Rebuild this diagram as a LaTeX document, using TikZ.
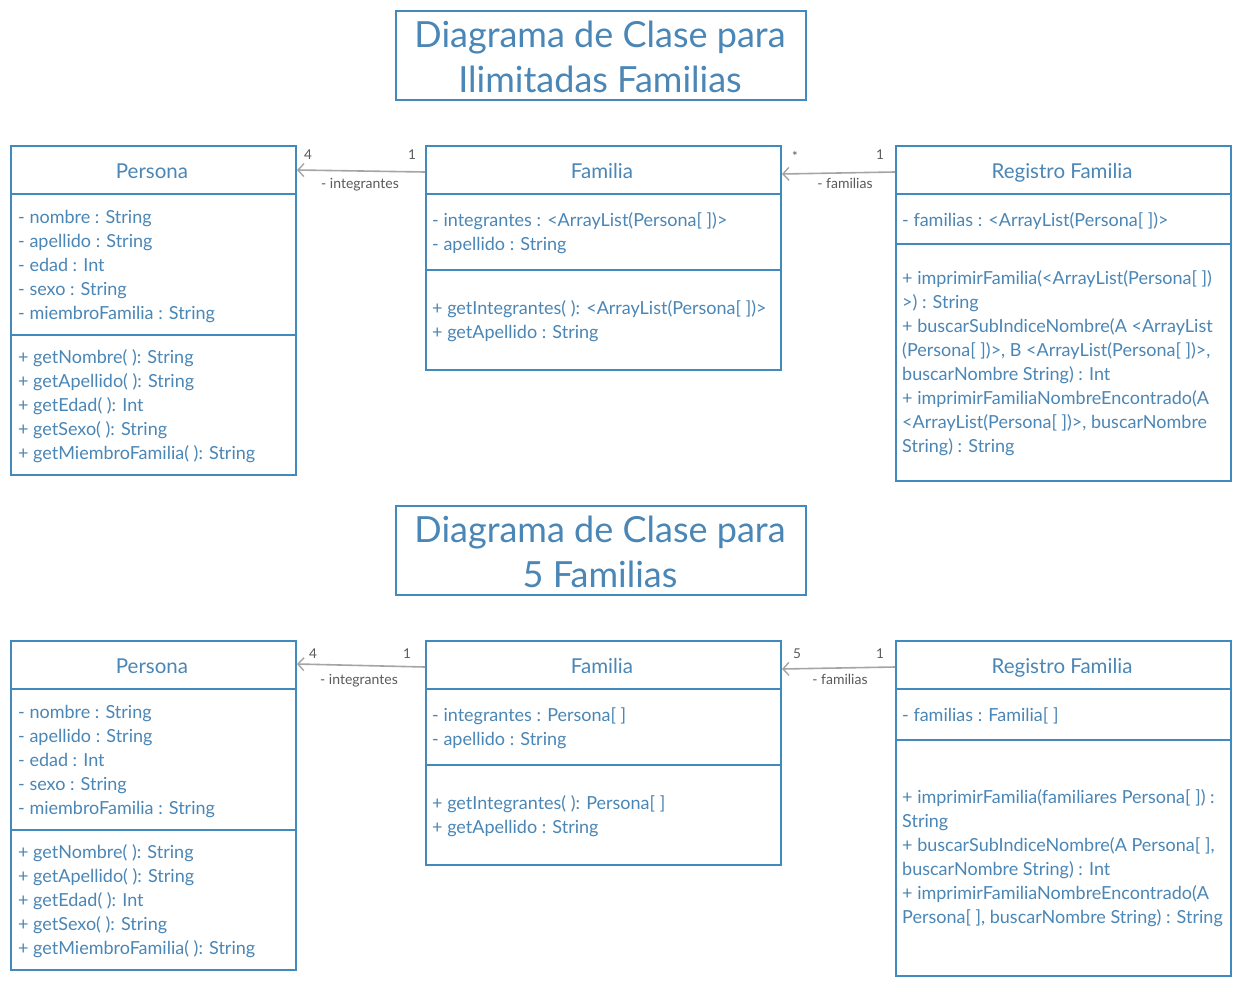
\documentclass[tikz,border=0pt]{standalone}
\usepackage{fontspec}
\setmainfont{Lato}
\usetikzlibrary{arrows.meta}
\definecolor{bcol}{RGB}{66,138,190}
\definecolor{tcol}{RGB}{74,134,182}
\definecolor{acol}{RGB}{165,165,165}
\definecolor{lcol}{RGB}{90,90,90}
\tikzset{
  box/.style={draw=bcol, line width=2pt, anchor=north west, inner sep=0, fill=white},
  div/.style={draw=bcol, line width=2pt},
  ln/.style={text=tcol, font=\fontsize{18}{20}\selectfont, anchor=base west, inner sep=0},
  hd/.style={text=tcol, font=\fontsize{20.5}{22}\selectfont, anchor=base, inner sep=0},
  ttl/.style={text=tcol, font=\fontsize{36}{40}\selectfont, anchor=base, inner sep=0},
  mult/.style={text=lcol, font=\fontsize{13.5}{15}\selectfont, anchor=base, inner sep=0},
  rol/.style={text=lcol, font=\fontsize{14}{15}\selectfont, anchor=base, inner sep=0},
  assoc/.style={draw=acol, line width=1.6pt, -{Straight Barb[length=6pt,width=13pt,line width=1.4pt]}}
}
\begin{document}
\begin{tikzpicture}[x=1pt,y=-1pt]
\useasboundingbox[fill=white] (0,0) rectangle (1240,985);

% ===== TOP =====
\node[box, minimum width=410pt, minimum height=89pt] (t1) at (395,10) {};
\node[ttl] (t1a) at (600,47) {Diagrama de Clase para};
\node[ttl] (t1b) at (600,92) {Ilimitadas Familias};

% Persona
\node[box, minimum width=285pt, minimum height=329pt] (p1) at (10,145) {};
\draw[div] ([yshift=-49pt]p1.north west) -- ([yshift=-49pt]p1.north east);
\draw[div] ([yshift=-190pt]p1.north west) -- ([yshift=-190pt]p1.north east);
\node[hd] (p1h) at (152,178) {Persona};
\node[ln] (p1a1) at (18,223) {- nombre : String};
\node[ln] (p1a2) at (18,247) {- apellido : String};
\node[ln] (p1a3) at (18,271) {- edad : Int};
\node[ln] (p1a4) at (18,295) {- sexo : String};
\node[ln] (p1a5) at (18,319) {- miembroFamilia : String};
\node[ln] (p1m1) at (18,363) {+ getNombre( ): String};
\node[ln] (p1m2) at (18,387) {+ getApellido( ): String};
\node[ln] (p1m3) at (18,411) {+ getEdad( ): Int};
\node[ln] (p1m4) at (18,435) {+ getSexo( ): String};
\node[ln] (p1m5) at (18,459) {+ getMiembroFamilia( ): String};

% Familia
\node[box, minimum width=355pt, minimum height=224pt] (f1) at (425,145) {};
\draw[div] ([yshift=-49pt]f1.north west) -- ([yshift=-49pt]f1.north east);
\draw[div] ([yshift=-125pt]f1.north west) -- ([yshift=-125pt]f1.north east);
\node[hd] (f1h) at (602,178) {Familia};
\node[ln] (f1a1) at (432,226) {- integrantes : <ArrayList(Persona[ ])>};
\node[ln] (f1a2) at (432,250) {- apellido : String};
\node[ln] (f1m1) at (432,314) {+ getIntegrantes( ): <ArrayList(Persona[ ])>};
\node[ln] (f1m2) at (432,338) {+ getApellido : String};

% Registro Familia
\node[box, minimum width=335pt, minimum height=335pt] (r1) at (895,145) {};
\draw[div] ([yshift=-49pt]r1.north west) -- ([yshift=-49pt]r1.north east);
\draw[div] ([yshift=-99pt]r1.north west) -- ([yshift=-99pt]r1.north east);
\node[hd] (r1h) at (1062,178) {Registro Familia};
\node[ln] (r1a1) at (902,226) {- familias : <ArrayList(Persona[ ])>};
\node[ln] (r1m1) at (902,284) {+ imprimirFamilia(<ArrayList(Persona[ ])};
\node[ln] (r1m2) at (902,308) {>) : String};
\node[ln] (r1m3) at (902,332) {+ buscarSubIndiceNombre(A <ArrayList};
\node[ln] (r1m4) at (902,356) {(Persona[ ])>, B <ArrayList(Persona[ ])>,};
\node[ln] (r1m5) at (902,380) {buscarNombre String) : Int};
\node[ln] (r1m6) at (902,404) {+ imprimirFamiliaNombreEncontrado(A};
\node[ln] (r1m7) at (902,428) {<ArrayList(Persona[ ])>, buscarNombre};
\node[ln] (r1m8) at (902,452) {String) : String};

% associations top
\draw[assoc] ([yshift=-27pt]f1.north west) -- ([yshift=-25pt]p1.north east);
\node[mult] (m1a) at (308,159) {4};
\node[mult] (m1b) at (412,159) {1};
\node[rol] (l1a) at (360,188) {- integrantes};
\draw[assoc] ([yshift=-27pt]r1.north west) -- ([yshift=-29pt]f1.north east);
\node[mult] (m2a) at (795,161) {*};
\node[mult] (m2b) at (880,159) {1};
\node[rol] (l2a) at (845,188) {- familias};

% ===== BOTTOM =====
\node[box, minimum width=410pt, minimum height=89pt] (t2) at (395,505) {};
\node[ttl] (t2a) at (600,542) {Diagrama de Clase para};
\node[ttl] (t2b) at (600,587) {5 Familias};

% Persona
\node[box, minimum width=285pt, minimum height=329pt] (p2) at (10,640) {};
\draw[div] ([yshift=-49pt]p2.north west) -- ([yshift=-49pt]p2.north east);
\draw[div] ([yshift=-190pt]p2.north west) -- ([yshift=-190pt]p2.north east);
\node[hd] (p2h) at (152,673) {Persona};
\node[ln] (p2a1) at (18,718) {- nombre : String};
\node[ln] (p2a2) at (18,742) {- apellido : String};
\node[ln] (p2a3) at (18,766) {- edad : Int};
\node[ln] (p2a4) at (18,790) {- sexo : String};
\node[ln] (p2a5) at (18,814) {- miembroFamilia : String};
\node[ln] (p2m1) at (18,858) {+ getNombre( ): String};
\node[ln] (p2m2) at (18,882) {+ getApellido( ): String};
\node[ln] (p2m3) at (18,906) {+ getEdad( ): Int};
\node[ln] (p2m4) at (18,930) {+ getSexo( ): String};
\node[ln] (p2m5) at (18,954) {+ getMiembroFamilia( ): String};

% Familia
\node[box, minimum width=355pt, minimum height=224pt] (f2) at (425,640) {};
\draw[div] ([yshift=-49pt]f2.north west) -- ([yshift=-49pt]f2.north east);
\draw[div] ([yshift=-125pt]f2.north west) -- ([yshift=-125pt]f2.north east);
\node[hd] (f2h) at (602,673) {Familia};
\node[ln] (f2a1) at (432,721) {- integrantes : Persona[ ]};
\node[ln] (f2a2) at (432,745) {- apellido : String};
\node[ln] (f2m1) at (432,809) {+ getIntegrantes( ): Persona[ ]};
\node[ln] (f2m2) at (432,833) {+ getApellido : String};

% Registro Familia
\node[box, minimum width=335pt, minimum height=335pt] (r2) at (895,640) {};
\draw[div] ([yshift=-49pt]r2.north west) -- ([yshift=-49pt]r2.north east);
\draw[div] ([yshift=-100pt]r2.north west) -- ([yshift=-100pt]r2.north east);
\node[hd] (r2h) at (1062,673) {Registro Familia};
\node[ln] (r2a1) at (902,721) {- familias : Familia[ ]};
\node[ln] (r2m1) at (902,803) {+ imprimirFamilia(familiares Persona[ ]) :};
\node[ln] (r2m2) at (902,827) {String};
\node[ln] (r2m3) at (902,851) {+ buscarSubIndiceNombre(A Persona[ ],};
\node[ln] (r2m4) at (902,875) {buscarNombre String) : Int};
\node[ln] (r2m5) at (902,899) {+ imprimirFamiliaNombreEncontrado(A};
\node[ln] (r2m6) at (902,923) {Persona[ ], buscarNombre String) : String};

% associations bottom
\draw[assoc] ([yshift=-27pt]f2.north west) -- ([yshift=-24pt]p2.north east);
\node[mult] (m3a) at (313,658) {4};
\node[mult] (m3b) at (407,658) {1};
\node[rol] (l3a) at (359,684) {- integrantes};
\draw[assoc] ([yshift=-27pt]r2.north west) -- ([yshift=-29pt]f2.north east);
\node[mult] (m4a) at (797,658) {5};
\node[mult] (m4b) at (880,658) {1};
\node[rol] (l4a) at (840,684) {- familias};
\end{tikzpicture}
\end{document}
